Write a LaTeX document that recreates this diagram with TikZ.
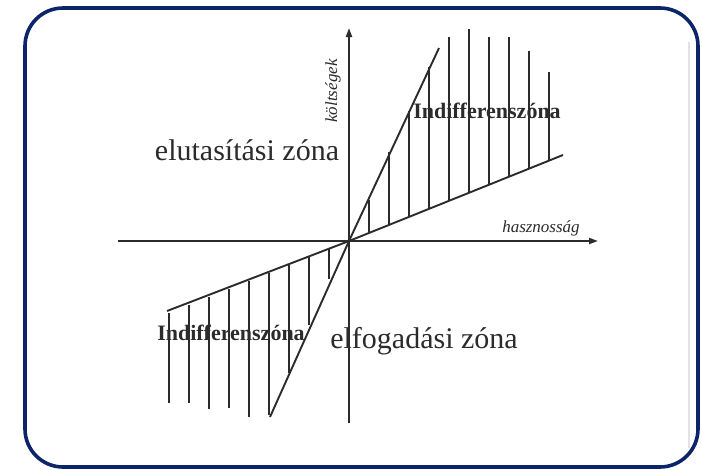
\documentclass[tikz,border=0pt]{standalone}
\usepackage{fontspec}
\setmainfont{Liberation Serif}
\usetikzlibrary{arrows.meta}
\definecolor{FrameBlue}{HTML}{0C2468}
\definecolor{InkDark}{HTML}{2B2B2B}
\definecolor{ShadeGray}{HTML}{E2E2E2}
\tikzset{
  frame/.style={draw=FrameBlue, line width=3.6pt, rounded corners=38pt},
  axis/.style={line width=1.9pt, draw=InkDark, -{Triangle[length=9pt,width=6pt]}},
  zoneline/.style={line width=1.9pt, draw=InkDark},
  hatch/.style={line width=1.9pt, draw=InkDark},
  zonetext/.style={font=\fontsize{30}{30}\selectfont, text=InkDark, inner sep=0pt, anchor=base},
  inditext/.style={font=\fontsize{22}{22}\selectfont\bfseries, text=InkDark, inner sep=0pt, anchor=base},
  axtext/.style={font=\fontsize{17}{17}\selectfont\itshape, text=InkDark, inner sep=0pt},
}

\begin{document}
\begin{tikzpicture}[x=1pt, y=-1pt]
\useasboundingbox (0,0) rectangle (702,469);
% ---------- frame
\draw[ShadeGray, line width=2.5pt] (689,42) -- (689,448);
\draw[frame] (25,8) rectangle (698,467);
% ---------- axes
\coordinate (O) at (349,241);
\coordinate (xlo) at (118,241);
\coordinate (xhi) at (598,241);
\coordinate (ylo) at (349,423);
\coordinate (yhi) at (349,28);
\draw[axis] (xlo) -- (xhi);
\draw[axis] (ylo) -- (yhi);
\node[axtext] (xlab) at (541,228) {hasznosság};
\node[axtext, rotate=90] (ylab) at (333,91) {költségek};
% ---------- zone boundaries
\coordinate (steeplo) at (270,417);
\coordinate (steephi) at (439,48);
\coordinate (flatlo) at (167,311);
\coordinate (flathi) at (563,155);
\draw[zoneline] (steeplo) -- (O) -- (steephi);
\draw[zoneline] (flatlo) -- (O) -- (flathi);
% ---------- hatching, upper right
\foreach \x/\t in {369/200,389/152,409/111,429/67,449/37,469/29,489/37,509/37,529/51,549/72}{
  \draw[hatch] (\x,{241-0.4*(\x-349)}) -- (\x,\t);
}
% ---------- hatching, lower left
\foreach \x/\b in {169/403,189/403,209/409,229/408,249/417,269/415,289/373,309/325,329/279}{
  \draw[hatch] (\x,{241+0.4*(349-\x)}) -- (\x,\b);
}
% ---------- zone labels
\node[zonetext] (reject) at (247,160) {elutasítási zóna};
\node[zonetext] (accept) at (424,348) {elfogadási zóna};
\node[inditext] (indhi) at (487,118) {Indifferenszóna};
\node[inditext] (indlo) at (231,340) {Indifferenszóna};
\end{tikzpicture}
\end{document}
